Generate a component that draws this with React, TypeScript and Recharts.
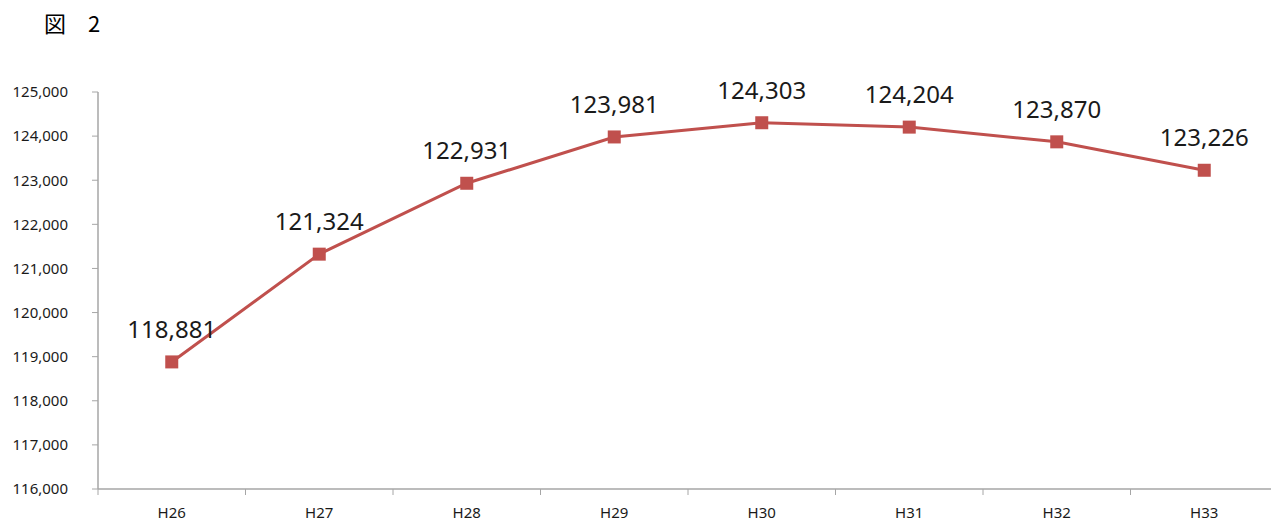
import { LabelList, Line, LineChart, XAxis, YAxis } from "recharts";

const years = ["H26", "H27", "H28", "H29", "H30", "H31", "H32", "H33"];
const population = [118881, 121324, 122931, 123981, 124303, 124204, 123870, 123226];
const yTicks = [116000, 117000, 118000, 119000, 120000, 121000, 122000, 123000, 124000, 125000];

const data = years.map((name, i) => ({ name, value: population[i] }));

const CHART_W = 1278;
const CHART_H = 523;
const Y_AXIS_W = 98;
const band = (CHART_W - Y_AXIS_W) / years.length;

const lineColor = "#c0504d";
const axisColor = "#a6a6a6";
const textColor = "#1a1a1a";
const font = "'Noto Sans', 'Open Sans', sans-serif";

function XTick(props: any) {
  const { x, y, payload } = props;
  return (
    <g>
      <line x1={x - band / 2} x2={x - band / 2} y1={y} y2={y + 6} stroke={axisColor} />
      <text x={x} y={y + 29} textAnchor="middle" fontSize={15} fill={textColor}>
        {payload.value}
      </text>
    </g>
  );
}

function SquareDot(props: any) {
  const { cx, cy } = props;
  if (cx == null || cy == null) return null;
  return <rect x={cx - 6.5} y={cy - 6.5} width={13} height={13} fill={lineColor} />;
}

export default function App() {
  return (
    <div
      style={{
        position: "fixed",
        left: 0,
        top: 0,
        width: 1271,
        height: CHART_H,
        overflow: "hidden",
        background: "#fff",
        fontFamily: font,
      }}
    >
      <div
        style={{
          position: "absolute",
          left: 44,
          top: 6,
          fontSize: 22,
          color: "#000",
          fontFamily: "'Noto Sans CJK JP', sans-serif",
          whiteSpace: "pre",
        }}
      >
        図　2
      </div>
      <LineChart
        width={CHART_W}
        height={CHART_H}
        data={data}
        margin={{ top: 92, right: 0, left: 0, bottom: 0 }}
      >
        <XAxis
          dataKey="name"
          height={34}
          tickSize={0}
          tickMargin={0}
          tickLine={false}
          padding={{ left: band / 2, right: band / 2 }}
          axisLine={{ stroke: axisColor, strokeWidth: 1.5 }}
          tick={<XTick />}
          interval={0}
        />
        <YAxis
          width={Y_AXIS_W}
          domain={[116000, 125000]}
          ticks={yTicks}
          tickSize={6}
          tickMargin={24}
          axisLine={{ stroke: axisColor, strokeWidth: 1.5 }}
          tickLine={{ stroke: axisColor }}
          tick={{ fontSize: 15, fill: textColor }}
          tickFormatter={(v) => Number(v).toLocaleString("en-US")}
        />
        <Line
          dataKey="value"
          stroke={lineColor}
          strokeWidth={3}
          dot={<SquareDot />}
          isAnimationActive={false}
        >
          <LabelList
            dataKey="value"
            position="top"
            offset={24}
            fontSize={24}
            fill="#1a1a1a"
            formatter={(v: any) => Number(v).toLocaleString("en-US")}
          />
        </Line>
      </LineChart>
    </div>
  );
}
